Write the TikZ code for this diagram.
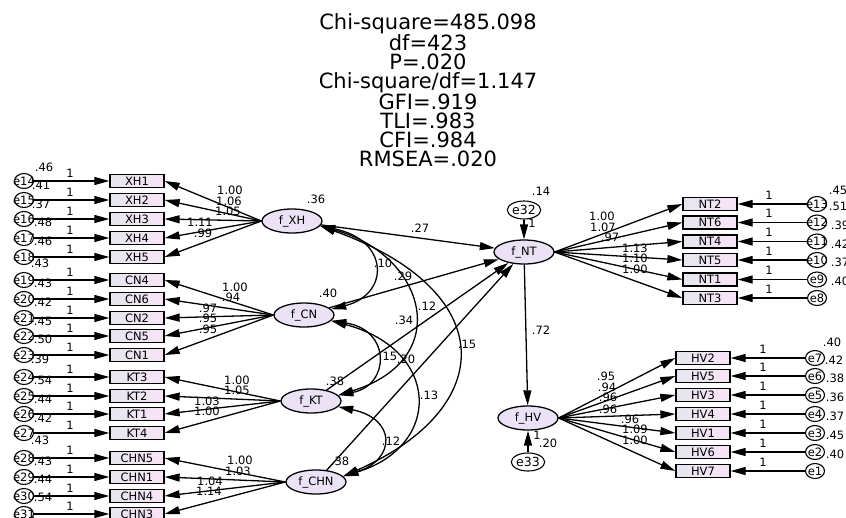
\documentclass[tikz,border=0pt]{standalone}
\usepackage{fontspec}
\setmainfont{DejaVu Sans}
\usepackage{tikz}
\usetikzlibrary{arrows.meta,shapes.geometric,calc}
\definecolor{lavend}{RGB}{236,226,245}
\definecolor{boxl}{RGB}{230,230,238}
\definecolor{boxr}{RGB}{247,228,247}
\newcommand{\ez}[1]{\makebox[0pt]{#1}}

\begin{document}
\begin{tikzpicture}[x=1pt,y=-1pt,
      font=\fontsize{11.5}{12}\selectfont,
      latent/.style={ellipse,draw,line width=1.3pt,fill=lavend,
                     minimum width=60pt,minimum height=24pt,inner sep=0pt},
      item/.style={draw,line width=1.3pt,left color=boxl,right color=boxr,
                   minimum width=54pt,minimum height=13pt,inner sep=0pt},
      err/.style={ellipse,draw,line width=1.1pt,fill=white,
                  minimum width=19pt,minimum height=15pt,inner sep=0pt},
      errbig/.style={err,minimum width=30pt,minimum height=18pt,font=\fontsize{12.5}{12}\selectfont},
      ar/.style={-{Triangle[length=15pt,width=8pt]},line width=1.3pt},
      cov/.style={{Triangle[length=15pt,width=8pt]}-{Triangle[length=15pt,width=8pt]},line width=1.3pt},
      lab/.style={inner sep=0pt},
    ]
    \useasboundingbox (0,0) rectangle (846,517);

    % fit indices
    \node[font=\fontsize{21}{19}\selectfont,align=center] (fitidx) at (428,90)
      {Chi-square=485.098\\df=423\\P=.020\\Chi-square/df=1.147\\
       GFI=.919\\TLI=.983\\CFI=.984\\RMSEA=.020};

    % latent factors
    \node[latent] (fxh) at (292,221) {f\_XH};
    \node[latent] (fcn) at (304,315) {f\_CN};
    \node[latent] (fkt) at (311,401) {f\_KT};
    \node[latent] (fchn) at (316,482) {f\_CHN};
    \node[latent] (fnt) at (524,252) {f\_NT};
    \node[latent] (fhv) at (528,418) {f\_HV};
    \node[errbig] (e32) at (524,210) {e32};
    \node[errbig] (e33) at (528,462) {e33};

    % left indicators
    \foreach \nm/\yy/\en/\fac in {XH1/181/14/fxh,XH2/200/15/fxh,XH3/219/16/fxh,XH4/238/17/fxh,XH5/257/18/fxh,
        CN4/280/19/fcn,CN6/299/20/fcn,CN2/318/21/fcn,CN5/336/22/fcn,CN1/355/23/fcn,
        KT3/377/24/fkt,KT2/396/25/fkt,KT1/414/26/fkt,KT4/433/27/fkt,
        CHN5/458/28/fchn,CHN1/477/29/fchn,CHN4/496/30/fchn,CHN3/514/31/fchn}{
      \node[item] (\nm) at (137,\yy) {\nm};
      \node[err] (e\en) at (24,\yy) {\ez{e\en}};
      \node[lab] at (70,\yy-8) {1};
      \draw[ar] (e\en) -- (\nm);
      \draw[ar] (\fac.west) -- (\nm.east);
    }

    % right indicators
    \foreach \nm/\yy/\en in {NT2/204/13,NT6/222.5/12,NT4/241.5/11,NT5/260/10,NT1/279.5/9,NT3/298/8}{
      \node[item] (\nm) at (710,\yy) {\nm};
      \node[err] (e\en) at (817,\yy) {\ez{e\en}};
      \node[lab] at (769,\yy-9) {1};
      \draw[ar] (e\en) -- (\nm);
      \draw[ar] (fnt.east) -- (\nm.west);
    }
    \foreach \nm/\yy/\en in {HV2/358/7,HV5/376/6,HV3/395/5,HV4/414/4,HV1/433/3,HV6/452/2,HV7/471/1}{
      \node[item] (\nm) at (703,\yy) {\nm};
      \node[err] (e\en) at (815,\yy) {\ez{e\en}};
      \node[lab] at (763,\yy-9) {1};
      \draw[ar] (e\en) -- (\nm);
      \draw[ar] (fhv.east) -- (\nm.west);
    }

    % structural paths
    \draw[ar] (fxh) -- (fnt);
    \draw[ar] (fcn) -- (fnt);
    \draw[ar] (fkt) -- (fnt);
    \draw[ar] (fchn) -- (fnt);
    \draw[ar] (fnt) -- (fhv);
    \draw[ar] (e32) -- (fnt);
    \draw[ar] (e33) -- (fhv);

    % covariances
    \draw[cov] (fxh.-10) .. controls +(69,14) and +(59,-15) .. (fcn.12);
    \draw[cov] (fxh.-10) .. controls +(106,29) and +(117,-36) .. (fkt.12);
    \draw[cov] (fxh.-10) .. controls +(179,64) and +(157,-69) .. (fchn.12);
    \draw[cov] (fcn.-12) .. controls +(60,9) and +(52,-10) .. (fkt.12);
    \draw[cov] (fcn.-12) .. controls +(110,29) and +(99,-30) .. (fchn.12);
    \draw[cov] (fkt.-12) .. controls +(58,12) and +(53,-17) .. (fchn.12);

    % estimates
    \foreach \xx/\yy/\txt in {420/228/.27,383/263/.10,403/276/.29,427/306/.12,404/320/.34,
        467/344/.15,388/356/.15,406/359/.20,429/395/.13,391/441/.12,
        541/330/.72,541/191/.14,532/223/1,537/435/1,548/443/.20,
        316/199/.36,328/293/.40,335/381/.38,340/461/.38}
      \node[lab] at (\xx,\yy) {\txt};
    \foreach \xx/\yy/\txt in {230/190/1.00,229/201/1.06,228/211/1.05,200/222/1.11,203/233/.99,
        235/287/1.00,231/297/.94,208/308/.97,208/318/.95,208/329/.95,
        237/380/1.00,237/390/1.05,207/401/1.03,207/411/1.00,
        240/460/1.00,238/471/1.03,210/481/1.04,209/491/1.14,
        602/216/1.00,603/227/1.07,610/237/.97,635/248/1.13,635/258/1.10,635/269/1.00,
        606/376/.95,607/387/.94,608/397/.96,608/409/.96,630/419/.96,635/429/1.09,635/440/1.00}
      \node[lab] at (\xx,\yy) {\txt};
    \foreach \xx/\yy/\txt in {44/167/.46,41/185/.41,41/204/.37,43/222/.48,43/241/.46,40/263/.43,
        43/283/.43,43/302/.42,43/321/.45,43/339/.50,40/359/.39,
        43/380/.54,43/399/.44,43/418/.42,40/440/.43,
        43/461/.43,43/479/.44,43/497/.54,
        838/190/.45,838/206/.51,840/225/.39,840/244/.42,840/262/.37,840/281/.40,
        832/342/.40,834/360/.42,835/378/.38,835/397/.36,835/416/.37,835/435/.45,835/454/.40}
      \node[lab] at (\xx,\yy) {\txt};
  \end{tikzpicture}
\end{document}
